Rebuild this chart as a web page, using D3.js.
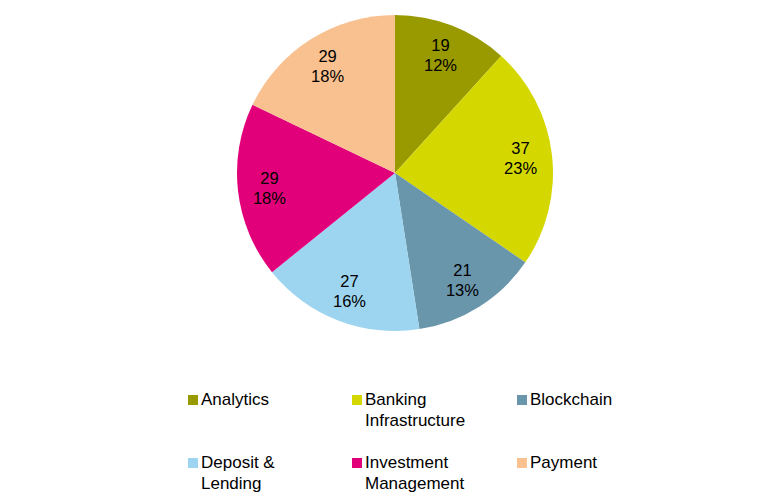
<!DOCTYPE html>
<html>
<head>
<meta charset="utf-8">
<script src="https://cdn.jsdelivr.net/npm/d3@7"></script>
<style>
  body { margin: 0; background: #fff; }
  text { font-family: "Liberation Sans", Arial, sans-serif; }
</style>
</head>
<body>
<svg id="chart" width="782" height="503"></svg>
<script>
// chart data
var categories = ["Analytics", "Banking Infrastructure", "Blockchain", "Deposit & Lending", "Investment Management", "Payment"];
var values = [19, 37, 21, 27, 29, 29];
var percentLabels = ["12%", "23%", "13%", "16%", "18%", "18%"];
var legendLines = [["Analytics"], ["Banking", "Infrastructure"], ["Blockchain"], ["Deposit &", "Lending"], ["Investment", "Management"], ["Payment"]];
var colors = ["#999900", "#d4d700", "#6a96ac", "#9dd5f0", "#e2007a", "#f9c090"];

var svg = d3.select('#chart');
var cx = 395, cy = 173, radius = 158;

var color = d3.scaleOrdinal().domain(categories).range(colors);

var pie = d3.pie().sort(null).value(function(d){ return d.value; });
var arc = d3.arc().innerRadius(0).outerRadius(radius);
var labelArc = d3.arc().innerRadius(radius * 0.8).outerRadius(radius * 0.8);

var data = categories.map(function(c, i){
    return { name: c, value: values[i], pct: percentLabels[i] };
});

var g = svg.append('g').attr('transform', 'translate(' + cx + ',' + cy + ')');

var slices = g.selectAll('g.slice')
    .data(pie(data))
    .enter().append('g')
    .attr('class', 'slice');

slices.append('path')
    .attr('d', arc)
    .style('fill', function(d){ return color(d.data.name); });

// value + percent labels
slices.append('text')
    .attr('transform', function(d){ return 'translate(' + labelArc.centroid(d) + ')'; })
    .attr('text-anchor', 'middle')
    .attr('font-size', 16.5)
    .attr('fill', '#000')
    .each(function(d){
        var t = d3.select(this);
        t.append('tspan').attr('x', 0).attr('y', -4).text(d.data.value);
        t.append('tspan').attr('x', 0).attr('y', 16).text(d.data.pct);
    });

// legend
var colX = [188, 352, 517];
var rowY = [395, 458];
var legend = svg.selectAll('g.legend')
    .data(data)
    .enter().append('g')
    .attr('class', 'legend')
    .attr('transform', function(d, i){
        return 'translate(' + colX[i % 3] + ',' + rowY[Math.floor(i / 3)] + ')';
    });

legend.append('rect')
    .attr('width', 10)
    .attr('height', 10)
    .style('fill', function(d){ return color(d.name); });

legend.append('text')
    .attr('x', 13)
    .attr('font-size', 17)
    .attr('fill', '#000')
    .each(function(d, i){
        var t = d3.select(this);
        legendLines[i].forEach(function(line, j){
            t.append('tspan').attr('x', 13).attr('y', 10 + j * 21).text(line);
        });
    });
</script>
</body>
</html>
